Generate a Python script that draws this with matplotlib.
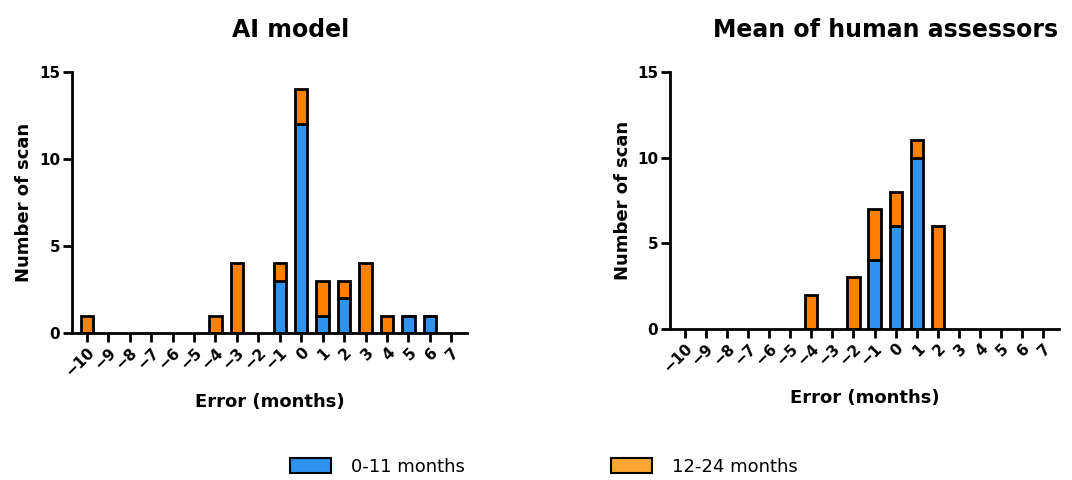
import matplotlib
matplotlib.use("Agg")
import matplotlib.pyplot as plt
from matplotlib.patches import Patch
import numpy as np

plt.rcParams['font.family'] = ['DejaVu Sans']

errors = list(range(-10, 8))
tick_labels = [("\u2212" + str(-e)) if e < 0 else str(e) for e in errors]

# AI model counts per error value
ai_young = [0, 0, 0, 0, 0, 0, 0, 0, 0, 3, 12, 1, 2, 0, 0, 1, 1, 0]
ai_old   = [1, 0, 0, 0, 0, 0, 1, 4, 0, 1, 2, 2, 1, 4, 1, 0, 0, 0]

# mean of human assessors
hu_young = [0, 0, 0, 0, 0, 0, 0, 0, 0, 4, 6, 10, 0, 0, 0, 0, 0, 0]
hu_old   = [0, 0, 0, 0, 0, 0, 2, 0, 3, 3, 2, 1, 6, 0, 0, 0, 0, 0]

blue = "#2E93F0"
orange = "#FF7F00"
orange_legend = "#FFA533"

fig = plt.figure(figsize=(10.72, 4.8), dpi=100)
ax1 = fig.add_axes([0.067, 0.306, 0.369, 0.544])
ax2 = fig.add_axes([0.625, 0.315, 0.363, 0.535])

panels = [(ax1, "AI model", ai_young, ai_old, 0.2715),
          (ax2, "Mean of human assessors", hu_young, hu_old, 0.826)]

for ax, title, young, old, tx in panels:
    x = np.array(errors)
    y = np.array(young)
    o = np.array(old)
    mask = (y + o) > 0
    ax.bar(x[mask], y[mask], 0.58, color=blue, edgecolor="black", linewidth=2, zorder=2)
    ax.bar(x[mask], o[mask], 0.58, bottom=y[mask], color=orange, edgecolor="black",
           linewidth=2, zorder=2)
    ax.set_xlim(-10.7, 7.75)
    ax.set_ylim(0, 15)
    ax.set_yticks([0, 5, 10, 15])
    ax.set_xticks(errors)
    ax.set_xticklabels(tick_labels, rotation=45, ha="right", rotation_mode="anchor",
                       fontsize=11, fontweight="bold")
    for lbl in ax.get_yticklabels():
        lbl.set_fontsize(11)
        lbl.set_fontweight("bold")
    ax.spines["top"].set_visible(False)
    ax.spines["right"].set_visible(False)
    ax.spines["left"].set_linewidth(2)
    ax.spines["bottom"].set_linewidth(2)
    ax.tick_params(width=2, length=6.5, pad=2)
    # title sits a little right of the axes centre in the original
    fig.text(tx, 0.937, title, ha="center", va="center", fontsize=17, fontweight="bold")
    ax.set_ylabel("Number of scan", fontsize=13, fontweight="bold", labelpad=4)
    ax.set_xlabel("Error (months)", fontsize=13, fontweight="bold", labelpad=10)

handles = [Patch(facecolor=blue, edgecolor="black", linewidth=1.5),
           Patch(facecolor=orange_legend, edgecolor="black", linewidth=1.5)]
fig.legend(handles, ["0-11 months", "12-24 months"], loc="center",
           bbox_to_anchor=(0.507, 0.027), ncol=2, frameon=False, fontsize=13,
           handlelength=2.27, handleheight=0.9, handletextpad=1.1, columnspacing=8.1)

fig.savefig("out.png", dpi=100)
